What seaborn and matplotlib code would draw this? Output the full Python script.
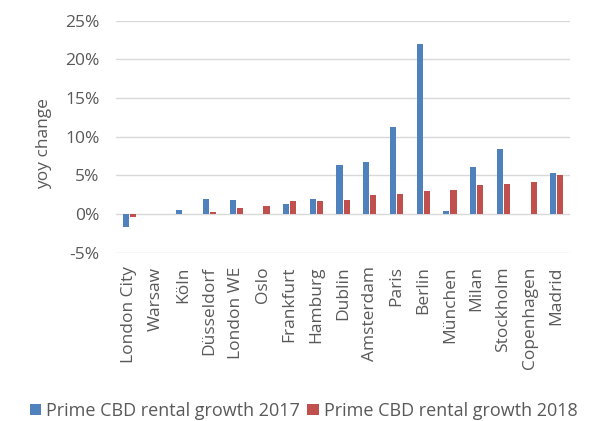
import matplotlib
matplotlib.use("Agg")
import matplotlib.pyplot as plt
import seaborn as sns
import pandas as pd
from matplotlib.ticker import FuncFormatter

cities = ["London City", "Warsaw", "Köln", "Düsseldorf", "London WE", "Oslo",
          "Frankfurt", "Hamburg", "Dublin", "Amsterdam", "Paris", "Berlin",
          "München", "Milan", "Stockholm", "Copenhagen", "Madrid"]
growth_2017 = [-1.7, 0.0, 0.45, 1.9, 1.77, 0.0, 1.3, 1.94, 6.3, 6.68, 11.2, 22.0,
               0.43, 6.03, 8.4, 0.0, 5.34]
growth_2018 = [-0.35, 0.0, 0.0, 0.26, 0.78, 1.0, 1.68, 1.68, 1.85, 2.5, 2.55, 2.97,
               3.1, 3.75, 3.88, 4.13, 5.08]
series_names = ["Prime CBD rental growth 2017", "Prime CBD rental growth 2018"]
y_ticks = [-5, 0, 5, 10, 15, 20, 25]

df = pd.DataFrame({
    "city": cities * 2,
    "value": growth_2017 + growth_2018,
    "series": [series_names[0]] * len(cities) + [series_names[1]] * len(cities),
})

sns.set_theme(style="white")
plt.rcParams["font.family"] = ["Open Sans", "DejaVu Sans"]
plt.rcParams["axes.unicode_minus"] = False
text_color = "#595959"
grid_color = "#D9D9D9"

fig = plt.figure(figsize=(5.92, 4.21), dpi=100)
ax = fig.add_axes([0.196, 0.400, 0.767, 0.551])

sns.barplot(data=df, x="city", y="value", hue="series",
            palette=["#4F81BD", "#C0504D"], width=0.54, ax=ax,
            linewidth=0, saturation=1)
# thin gap between the pair of bars
for p in ax.patches:
    w = p.get_width()
    if w > 0:
        p.set_x(p.get_x() + 0.02)
        p.set_width(w - 0.04)

ax.set_ylim(-5, 25)
ax.set_yticks(y_ticks)
ax.yaxis.set_major_formatter(FuncFormatter(lambda v, _: f"{v:.0f}%"))
ax.set_xlim(-0.5, len(cities) - 0.5)
ax.grid(axis="y", color=grid_color, linewidth=1)
ax.set_axisbelow(True)
for s in ax.spines.values():
    s.set_visible(False)
ax.tick_params(axis="both", length=0, colors=text_color, labelsize=12.5)
ax.tick_params(axis="x", pad=10)
ax.tick_params(axis="y", pad=12)
plt.setp(ax.get_xticklabels(), rotation=90)
ax.set_xlabel("")
ax.set_ylabel("yoy change", color=text_color, fontsize=12.5)
ax.yaxis.set_label_coords(-0.141, 0.472)

handles, labels = ax.get_legend_handles_labels()
ax.get_legend().remove()
fig.legend(handles, labels, loc="center", bbox_to_anchor=(0.513, 0.024), ncol=2,
           frameon=False, fontsize=13, handlelength=0.62, handleheight=0.62,
           handletextpad=0.3, columnspacing=0.4, labelcolor=text_color,
           borderpad=0, borderaxespad=0)

fig.savefig("out.png", dpi=100)
